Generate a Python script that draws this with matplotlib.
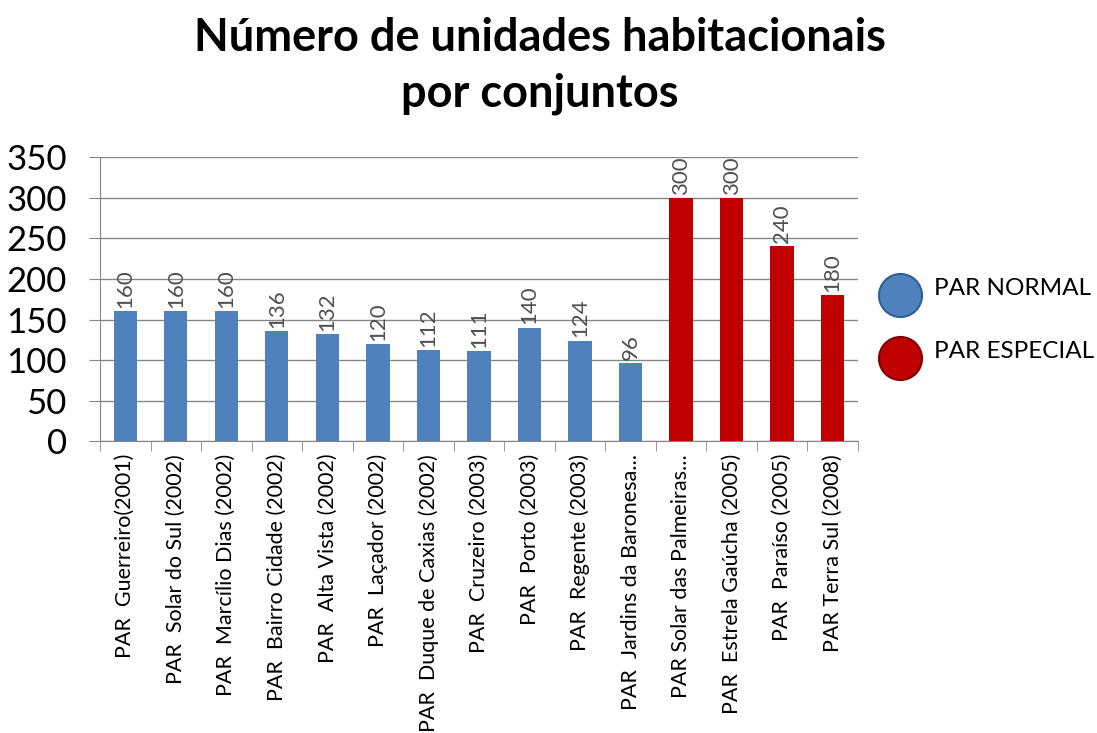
import matplotlib.pyplot as plt
from matplotlib.lines import Line2D
import numpy as np

plt.rcParams['font.family'] = ['Lato', 'DejaVu Sans']

categorias = [
    "PAR  Guerreiro(2001)", "PAR  Solar do Sul (2002)", "PAR  Marcílio Dias (2002)",
    "PAR  Bairro Cidade (2002)", "PAR  Alta Vista (2002)", "PAR  Laçador (2002)",
    "PAR  Duque de Caxias (2002)", "PAR  Cruzeiro (2003)", "PAR  Porto (2003)",
    "PAR  Regente (2003)", "PAR  Jardins da Baronesa...", "PAR Solar das Palmeiras...",
    "PAR  Estrela Gaúcha (2005)", "PAR  Paraíso (2005)", "PAR Terra Sul (2008)",
]
unidades = [160, 160, 160, 136, 132, 120, 112, 111, 140, 124, 96, 300, 300, 240, 180]
tipo = ["normal"] * 11 + ["especial"] * 4
legenda = ["PAR NORMAL", "PAR ESPECIAL"]

cor = {"normal": "#4F81BD", "especial": "#C00000"}
borda = {"normal": "#2F5F95", "especial": "#800000"}

fig = plt.figure(figsize=(10.97, 7.33), dpi=100)
ax = fig.add_axes([0.0912, 0.398, 0.6908, 0.3875])

x = np.arange(len(categorias))
ax.bar(x, unidades, width=0.46, color=[cor[t] for t in tipo], zorder=3)

for xi, v in zip(x, unidades):
    ax.text(xi, v + 4, str(v), rotation=90, ha="center", va="bottom",
            fontsize=16, color="#505050")

ax.set_xlim(-0.5, len(categorias) - 0.5)
ax.set_ylim(0, 350)
ax.set_yticks(range(0, 351, 50))
ax.tick_params(axis="y", labelsize=25, length=8, color="#868686", pad=16)
ax.yaxis.grid(True, color="#868686", linewidth=1, zorder=0)

ax.set_xticks(x)
ax.set_xticklabels(categorias, rotation=90, fontsize=15.5, va="top")
ax.tick_params(axis="x", length=0, pad=9)
ax.set_xticks(np.arange(-0.5, len(categorias), 1), minor=True)
ax.tick_params(axis="x", which="minor", length=7, color="#868686")

for s in ["top", "right"]:
    ax.spines[s].set_visible(False)
ax.spines["left"].set_color("#868686")
ax.spines["bottom"].set_color("#868686")

fig.text(0.492, 0.948, "Número de unidades habitacionais", ha="center", va="center",
         fontsize=32.5, fontweight="bold")
fig.text(0.492, 0.872, "por conjuntos", ha="center", va="center",
         fontsize=32.5, fontweight="bold")

# legenda com marcadores circulares
for t, rotulo, ym, yt in zip(["normal", "especial"], legenda,
                             [0.5975, 0.5116], [0.606, 0.520]):
    fig.add_artist(Line2D([0.8204], [ym], marker="o", linestyle="", markersize=31,
                          markerfacecolor=cor[t], markeredgecolor=borda[t],
                          markeredgewidth=1.5, transform=fig.transFigure))
    fig.text(0.8514, yt, rotulo, ha="left", va="center", fontsize=17.5)

fig.savefig("out.png", dpi=100)
